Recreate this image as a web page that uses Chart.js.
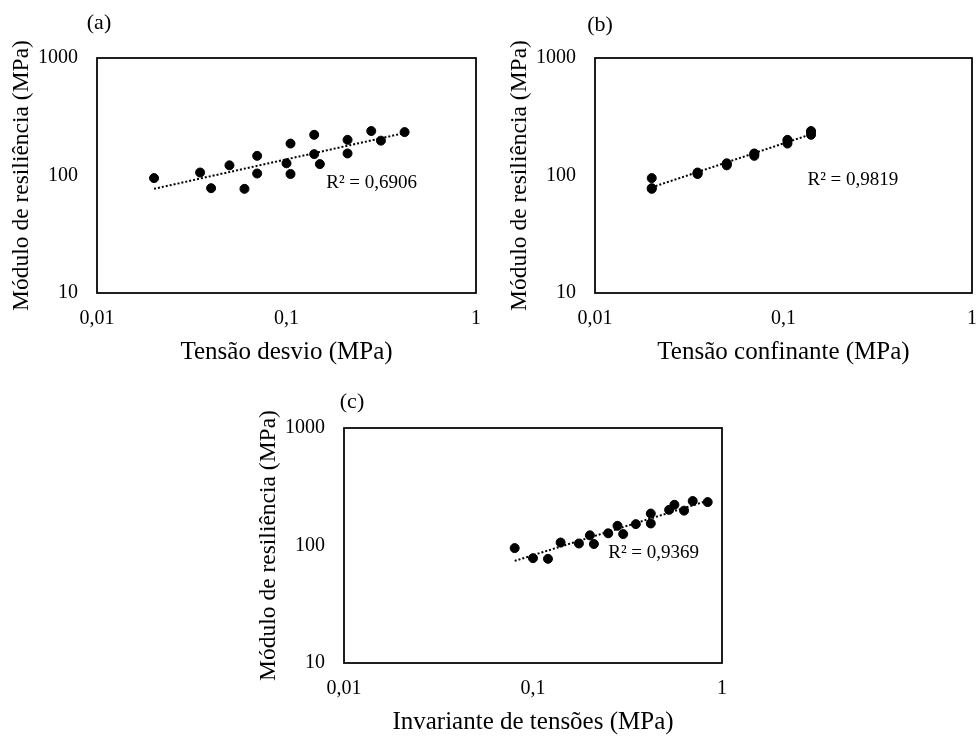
<!DOCTYPE html>
<html>
<head>
<meta charset="utf-8">
<script src="https://cdn.jsdelivr.net/npm/chart.js@4.4.1/dist/chart.umd.min.js"></script>
<style>
body { margin: 0; background: #fff; overflow: hidden; }
#wrap { position: relative; width: 978px; height: 740px; overflow: hidden; }
canvas { position: absolute; }
</style>
</head>
<body>
<div id="wrap">
  <canvas id="chart-a" style="left:0px;top:0px" width="495" height="370"></canvas>
  <canvas id="chart-b" style="left:498px;top:0px" width="493" height="370"></canvas>
  <canvas id="chart-c" style="left:247px;top:370px" width="494" height="370"></canvas>
</div>
<script>
// 18 stress states (confining / deviator / invariant, MPa) and the measured modulus (MPa)
const confiningStress = [0.02, 0.02, 0.02, 0.035, 0.035, 0.035, 0.05, 0.05, 0.05, 0.07, 0.07, 0.07, 0.105, 0.105, 0.105, 0.14, 0.14, 0.14];
const deviatorStress = [0.02, 0.04, 0.06, 0.035, 0.07, 0.105, 0.05, 0.1, 0.15, 0.07, 0.14, 0.21, 0.105, 0.21, 0.315, 0.14, 0.28, 0.42];
const stressInvariant = [0.08, 0.1, 0.12, 0.14, 0.175, 0.21, 0.2, 0.25, 0.3, 0.28, 0.35, 0.42, 0.42, 0.525, 0.63, 0.56, 0.7, 0.84];
const resilientModulus = [95, 78, 77, 106, 104, 103, 122, 127, 125, 147, 152, 154, 187, 201, 198, 222, 239, 234];

const xTickValues = [0.01, 0.1, 1];
const yTickValues = [10, 100, 1000];
const r2Labels = ['R² = 0,6906', 'R² = 0,9819', 'R² = 0,9369'];

const serif = '"Liberation Serif", "Times New Roman", serif';

// power trendline, least squares in log-log (same as the spreadsheet does)
function powerFit(xs, ys) {
    const n = xs.length;
    let sx = 0, sy = 0, sxx = 0, sxy = 0;
    for (let i = 0; i < n; i++) {
        const lx = Math.log(xs[i]);
        const ly = Math.log(ys[i]);
        sx += lx; sy += ly; sxx += lx * lx; sxy += lx * ly;
    }
    const b = (n * sxy - sx * sy) / (n * sxx - sx * sx);
    const a = Math.exp((sy - b * sx) / n);
    return { a, b };
}

const framePlugin = {
    id: 'frame',
    afterDraw(chart, args, opts) {
        const { ctx, chartArea: area, scales } = chart;
        ctx.save();
        ctx.strokeStyle = '#000';
        ctx.lineWidth = 1.75;
        ctx.strokeRect(area.left, area.top, area.right - area.left, area.bottom - area.top);
        ctx.fillStyle = '#000';
        ctx.textBaseline = 'middle';
        ctx.textAlign = 'left';
        ctx.font = '19px ' + serif;
        ctx.fillText(opts.r2, scales.x.getPixelForValue(opts.r2At[0]), scales.y.getPixelForValue(opts.r2At[1]));
        ctx.textAlign = 'center';
        ctx.font = '22px ' + serif;
        ctx.fillText(opts.label, area.left + opts.labelDx, area.top - opts.labelDy);
        ctx.restore();
    }
};

function makeChart(canvasId, xs, xTitle, opts) {
    const fit = powerFit(xs, resilientModulus);
    const xMin = Math.min(...xs);
    const xMax = Math.max(...xs);
    const points = xs.map((x, i) => ({ x: x, y: resilientModulus[i] }));
    const trend = [xMin, xMax].map(x => ({ x: x, y: fit.a * Math.pow(x, fit.b) }));
    const canvas = document.getElementById(canvasId);

    return new Chart(canvas, {
        type: 'scatter',
        data: {
            datasets: [{
                data: points,
                backgroundColor: '#000',
                borderColor: '#000',
                pointRadius: 4.5,
                pointHoverRadius: 4.5
            }, {
                data: trend,
                showLine: true,
                borderColor: '#000',
                borderWidth: 2,
                borderDash: [2, 2],
                pointRadius: 0,
                fill: false
            }]
        },
        options: {
            responsive: false,
            animation: false,
            layout: { padding: { top: 58, right: 19, left: 0, bottom: 0 } },
            plugins: {
                legend: { display: false },
                tooltip: { enabled: false },
                frame: { r2: opts.r2, r2At: opts.r2At, label: opts.label, labelDx: opts.labelDx, labelDy: opts.labelDy }
            },
            scales: {
                x: {
                    type: 'logarithmic',
                    min: 0.01,
                    max: 1,
                    afterBuildTicks: scale => { scale.ticks = xTickValues.map(v => ({ value: v })); },
                    afterFit: scale => { scale.height = 77; },
                    grid: { display: false, drawTicks: false },
                    border: { display: false },
                    ticks: {
                        color: '#000',
                        padding: 14,
                        maxRotation: 0,
                        font: { family: serif, size: 20 },
                        callback: v => String(v).replace('.', ',')
                    },
                    title: {
                        display: true,
                        text: xTitle,
                        color: '#000',
                        font: { family: serif, size: 25 },
                        padding: { top: 0, bottom: 3 }
                    }
                },
                y: {
                    type: 'logarithmic',
                    min: 10,
                    max: 1000,
                    afterBuildTicks: scale => { scale.ticks = yTickValues.map(v => ({ value: v })); },
                    afterFit: scale => { scale.width = 97; },
                    grid: { display: false, drawTicks: false },
                    border: { display: false },
                    ticks: {
                        color: '#000',
                        padding: 19,
                        font: { family: serif, size: 20 },
                        callback: v => String(v)
                    },
                    title: {
                        display: true,
                        text: 'Módulo de resiliência (MPa)',
                        color: '#000',
                        font: { family: serif, size: 23.5 },
                        padding: { top: 8, bottom: 0 }
                    }
                }
            }
        },
        plugins: [framePlugin]
    });
}

makeChart('chart-a', deviatorStress, 'Tensão desvio (MPa)', {
    r2: r2Labels[0], r2At: [0.162, 86], label: '(a)', labelDx: 2, labelDy: 35
});
makeChart('chart-b', confiningStress, 'Tensão confinante (MPa)', {
    r2: r2Labels[1], r2At: [0.134, 92], label: '(b)', labelDx: 5, labelDy: 33
});
makeChart('chart-c', stressInvariant, 'Invariante de tensões (MPa)', {
    r2: r2Labels[2], r2At: [0.25, 86], label: '(c)', labelDx: 8, labelDy: 26
});
</script>
</body>
</html>
